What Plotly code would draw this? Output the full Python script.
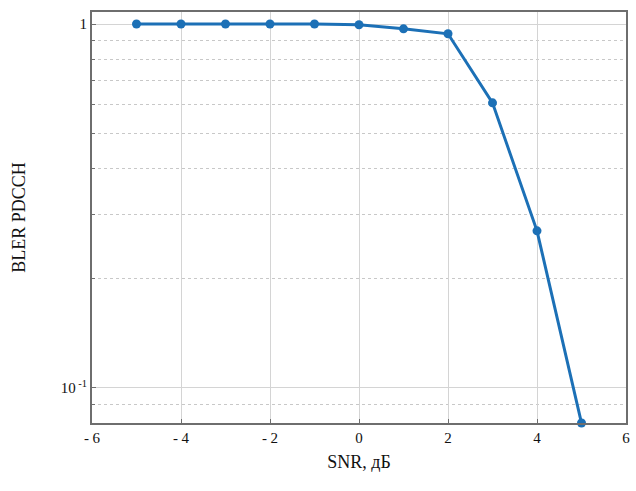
import plotly.graph_objects as go
import math

snr = [-5, -4, -3, -2, -1, 0, 1, 2, 3, 4, 5]
bler = [1.0, 1.0, 1.0, 1.0, 1.0, 0.995, 0.97, 0.94, 0.607, 0.27, 0.080]

x_ticks = [-6, -4, -2, 0, 2, 4, 6]
x_ticktext = ["- 6", "- 4", "- 2", "0", "2", "4", "6"]
y_ticks = [1, 0.1]
y_ticktext = ["1", "10<sup> -1</sup>"]
y_minor = [0.09, 0.2, 0.3, 0.4, 0.5, 0.6, 0.7, 0.8, 0.9]

fig = go.Figure()
fig.add_trace(go.Scatter(
    x=snr, y=bler, mode="lines+markers",
    line=dict(color="#1c70b6", width=3),
    marker=dict(color="#1c70b6", size=9),
    cliponaxis=False, showlegend=False,
))

font = dict(family="Liberation Serif", color="#111111")

fig.update_layout(
    width=636, height=491,
    margin=dict(l=92, r=6, t=12, b=68),
    paper_bgcolor="white", plot_bgcolor="white",
    font=dict(size=14, **font),
    xaxis=dict(
        range=[-6, 6], tickvals=x_ticks, ticktext=x_ticktext,
        showgrid=True, gridcolor="#d4d4d4", gridwidth=1,
        showline=True, linecolor="#6e6e6e", linewidth=2, mirror=True,
        ticks="inside", ticklen=4, tickcolor="#6e6e6e",
        zeroline=False,
        title=dict(text="SNR, дБ", font=dict(size=18, **font), standoff=10),
        tickfont=dict(size=15, **font),
    ),
    yaxis=dict(
        type="log", range=[math.log10(0.08), math.log10(1.079)],
        tickvals=y_ticks, ticktext=y_ticktext,
        showgrid=True, gridcolor="#d4d4d4", gridwidth=1,
        showline=True, linecolor="#6e6e6e", linewidth=2, mirror=True,
        ticks="inside", ticklen=4, tickcolor="#6e6e6e",
        zeroline=False,
        minor=dict(tickvals=y_minor, showgrid=True, gridcolor="#c8c8c8",
                   griddash="dot", gridwidth=1, ticks="inside", ticklen=3,
                   tickcolor="#6e6e6e"),
        title=dict(text="BLER PDCCH", font=dict(size=18, **font), standoff=30),
        tickfont=dict(size=15, **font),
    ),
)

fig.write_html("out.html", config={"displayModeBar": False},
               post_script="document.body.style.margin='0';")
